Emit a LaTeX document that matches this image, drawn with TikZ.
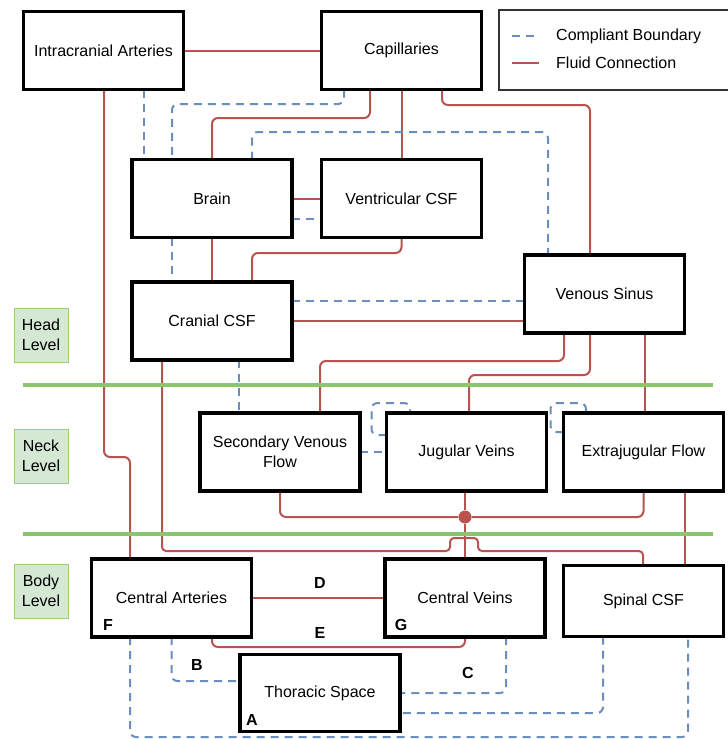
\documentclass[tikz,border=0pt]{standalone}
\usepackage{fontspec}
\setmainfont{Liberation Sans}
\definecolor{fluidred}{HTML}{B85450}
\definecolor{compblue}{HTML}{6C8EBF}
\definecolor{levelgreen}{HTML}{8CC66A}
\definecolor{levelfill}{HTML}{D5E8D4}
\definecolor{levelstroke}{HTML}{97D077}
\pgfdeclarelayer{bg}
\pgfsetlayers{bg,main}
\begin{document}
\begin{tikzpicture}[x=1pt,y=-1pt,
  box/.style={draw=black, line width=3.5pt, fill=white, minimum width=160pt, minimum height=78pt, inner sep=2pt, outer sep=0pt, align=center, font=\fontsize{16}{20}\selectfont},
  fluid/.style={draw=fluidred, line width=2pt, rounded corners=6pt},
  compliant/.style={draw=compblue, line width=2pt, dash pattern=on 8pt off 6pt, rounded corners=6pt},
  lvl/.style={draw=levelstroke, fill=levelfill, line width=1pt, minimum width=54pt, minimum height=54pt, align=center, font=\fontsize{16}{20}\selectfont, inner sep=0pt},
  tag/.style={font=\fontsize{16}{20}\selectfont\bfseries, inner sep=0pt},
  levelline/.style={draw=levelgreen, line width=4pt},
  jdot/.style={circle, fill=fluidred, minimum size=13pt, inner sep=0pt}
]
\useasboundingbox (0,0) rectangle (728,739);

% level lines
\draw[levelline] (23,385) -- (713,385);
\draw[levelline] (23,534) -- (713,534);

% level labels
\node[lvl] (head) at (41,335) {Head\\Level};
\node[lvl] (neck) at (41,456) {Neck\\Level};
\node[lvl] (body) at (41,591) {Body\\Level};

% legend
\node[draw=black!80, line width=1.2pt, minimum width=232pt, minimum height=80pt, inner sep=0pt] (legend) at (615,50) {};
\draw[compliant] ([xshift=14pt,yshift=14pt]legend.west) -- ++(24,0);
\draw[fluid] ([xshift=14pt,yshift=-13pt]legend.west) -- ++(27,0);
\node[anchor=west, inner sep=0pt, font=\fontsize{16}{20}\selectfont] (lgc) at (556,36) {Compliant Boundary};
\node[anchor=west, inner sep=0pt, font=\fontsize{16}{20}\selectfont] (lgf) at (556,63) {Fluid Connection};

% boxes
\node[box] (ia) at (103.5,50.5) {Intracranial Arteries};
\node[box] (cap) at (401.5,50.5) {Capillaries};
\node[box] (brain) at (212,198.5) {Brain};
\node[box] (vent) at (401.5,198.5) {Ventricular CSF};
\node[box] (ccsf) at (212,321) {Cranial CSF};
\node[box] (vs) at (604.5,294) {Venous Sinus};
\node[box] (sec) at (280,452) {Secondary Venous\\Flow};
\node[box] (jug) at (466.5,452) {Jugular Veins};
\node[box] (ext) at (643.5,452) {Extrajugular Flow};
\node[box] (ca) at (171.5,598) {Central Arteries};
\node[box] (cv) at (465,598) {Central Veins};
\node[box, minimum height=71pt] (sp) at (643.5,601) {Spinal CSF};
\node[box, minimum height=77pt] (th) at (320,693) {Thoracic Space};

\node[jdot] (dot) at (465,517) {};

\begin{pgfonlayer}{bg}
% fluid connections
\draw[fluid] (ia.east) -- (cap.west);
\draw[fluid] ([xshift=0.5pt]ia.south) -- ++(0,367.5) -| ([xshift=-41.5pt]ca.north);
\draw[fluid] ([xshift=-31.5pt]cap.south) -- ++(0,28.5) -| (brain.north);
\draw[fluid] (cap.south) -- (vent.north);
\draw[fluid] ([xshift=40.5pt]cap.south) -- ++(0,15.5) -| ([xshift=-14.5pt]vs.north);
\draw[fluid] (brain.east) -- (vent.west);
\draw[fluid] (brain.south) -- (ccsf.north);
\draw[fluid] (vent.south) -- ++(0,15.5) -| ([xshift=40pt]ccsf.north);
\draw[fluid] (ccsf.east) -- ([yshift=-27pt]vs.west);
\draw[fluid] ([xshift=-40.5pt]vs.south) -- ++(0,28) -| ([xshift=40pt]sec.north);
\draw[fluid] ([xshift=-14.5pt]vs.south) -- ++(0,42) -| ([xshift=2.5pt]jug.north);
\draw[fluid] ([xshift=40.5pt]vs.south) -- ([xshift=1.5pt]ext.north);
\draw[fluid, rounded corners=4pt] ([xshift=-50pt]ccsf.south) -- ++(0,191) -- ++(288,0) -- ++(0,-13) -- ++(28,0) -- ++(0,13) -| ([xshift=-0.5pt]sp.north);
\draw[fluid] (sec.south) |- (dot);
\draw[fluid] ([xshift=-1.5pt]jug.south) -- (dot);
\draw[fluid] (dot) -- (cv.north);
\draw[fluid] (ext.south) |- (dot);
\draw[fluid] ([xshift=41.5pt]ext.south) -- ([xshift=41.5pt]sp.north);
\draw[fluid] (ca.east) -- (cv.west);
\draw[fluid] ([xshift=40.5pt]ca.south) -- ++(0,10) -| (cv.south);

% compliant boundaries
\draw[compliant] ([xshift=40.5pt]ia.south) -- ([xshift=-68pt]brain.north);
\draw[compliant] ([xshift=-57.5pt]cap.south) -- ++(0,14.5) -| ([xshift=-40pt]brain.north);
\draw[compliant] ([xshift=40pt]brain.north) -- ++(0,-27.5) -| ([xshift=-56.5pt]vs.north);
\draw[compliant] ([yshift=-20.5pt]brain.east) -- ([yshift=-20.5pt]vent.west);
\draw[compliant] ([xshift=-40pt]brain.south) -- ([xshift=-40pt]ccsf.north);
\draw[compliant] ([yshift=20pt]ccsf.east) -- ([yshift=-7pt]vs.west);
\draw[compliant] ([xshift=27pt]ccsf.south) -- ([xshift=-41pt]sec.north);
\draw[compliant] (sec.east) -- (jug.west);
\draw[compliant] ([yshift=17pt]jug.west) -- ++(-15,0) -- ++(0,-32) -| ([xshift=-56.5pt]jug.north);
\draw[compliant] ([yshift=20pt]ext.west) -- ++(-13,0) -- ++(0,-29) -| ([xshift=-57.5pt]ext.north);
\draw[compliant] (ca.south) |- ([yshift=12pt]th.west);
\draw[compliant] ([xshift=-41.5pt]ca.south) -- ++(0,100) -| ([xshift=44.5pt]sp.south);
\draw[compliant] ([xshift=41pt]cv.south) |- (th.east);
\draw[compliant] ([xshift=-40.5pt]sp.south) |- ([yshift=-20pt]th.east);
\end{pgfonlayer}

% tags
\node[tag] (lD) at (320,583) {D};
\node[tag] (lE) at (320,633) {E};
\node[tag] (lB) at (197,665) {B};
\node[tag] (lC) at (468,673) {C};
\node[tag] (lF) at (108,625) {F};
\node[tag] (lG) at (401,625) {G};
\node[tag] (lA) at (252,720) {A};
\end{tikzpicture}
\end{document}
